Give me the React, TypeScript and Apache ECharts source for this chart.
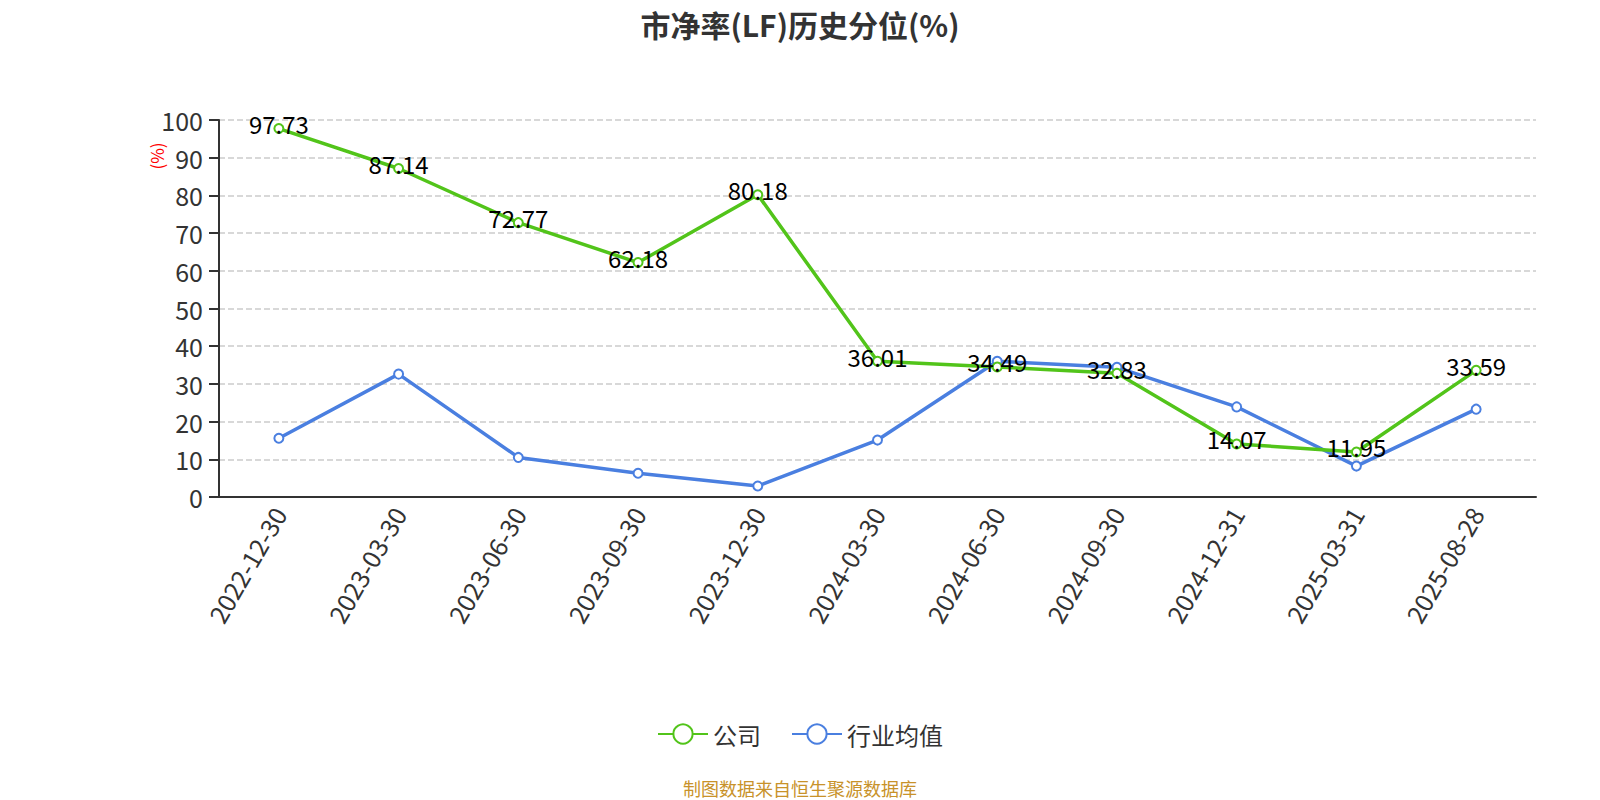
import React, { useEffect, useRef } from 'react';
import * as echarts from 'echarts';

const dates = [
  '2022-12-30', '2023-03-30', '2023-06-30', '2023-09-30', '2023-12-30', '2024-03-30',
  '2024-06-30', '2024-09-30', '2024-12-31', '2025-03-31', '2025-08-28',
];
const company = [97.73, 87.14, 72.77, 62.18, 80.18, 36.01, 34.49, 32.83, 14.07, 11.95, 33.59];
const industry = [15.6, 32.6, 10.5, 6.3, 2.9, 15.1, 36.0, 34.4, 23.9, 8.2, 23.3];

const FONT = '"Noto Sans CJK SC", "Noto Sans", sans-serif';

const App = () => {
  const chartRef = useRef<HTMLDivElement>(null);

  useEffect(() => {
    const chart = echarts.init(chartRef.current, null, { renderer: 'svg' });

    const option = {
      animation: false,
      textStyle: { fontFamily: FONT },
      title: {
        text: '市净率(LF)历史分位(%)',
        left: 'center',
        top: 4,
        textStyle: { fontSize: 30, fontWeight: 'bold', color: '#333', fontFamily: FONT },
      },
      legend: {
        top: 717,
        left: 'center',
        itemWidth: 50,
        itemHeight: 24,
        itemGap: 30,
        textStyle: { fontSize: 24, color: '#333', fontFamily: FONT },
        data: ['公司', '行业均值'],
      },
      grid: { left: 219, right: 64, top: 120, bottom: 303 },
      xAxis: {
        type: 'category',
        data: dates,
        axisLine: { lineStyle: { color: '#333', width: 2 } },
        axisTick: { length: 8, lineStyle: { width: 2 } },
        axisLabel: { rotate: 60, fontSize: 25, color: '#333', interval: 0, margin: 12 },
      },
      yAxis: {
        type: 'value',
        min: 0,
        max: 100,
        interval: 10,
        axisLine: { show: true, lineStyle: { color: '#333', width: 2 } },
        axisTick: { show: true, length: 10, lineStyle: { width: 2 } },
        axisLabel: { fontSize: 25, color: '#333', margin: 16 },
        splitLine: { lineStyle: { color: '#ccc', type: 'dashed', width: 1.5 } },
      },
      graphic: [
        {
          type: 'text',
          x: 156,
          y: 156,
          rotation: Math.PI / 2,
          style: {
            text: '(%)',
            fill: '#ff0000',
            font: `17px ${FONT}`,
            textAlign: 'center',
            textVerticalAlign: 'middle',
          },
        },
        {
          type: 'text',
          left: 'center',
          top: 779,
          style: { text: '制图数据来自恒生聚源数据库', fill: '#c8922a', font: `18px ${FONT}` },
        },
      ],
      series: [
        {
          name: '公司',
          type: 'line',
          data: company,
          symbol: 'emptyCircle',
          symbolSize: 9,
          z: 3,
          lineStyle: { color: '#52c41a', width: 3.5 },
          itemStyle: { color: '#52c41a', borderWidth: 2 },
          label: {
            show: true,
            position: 'inside',
            offset: [0, -5],
            fontSize: 24,
            color: '#000',
            fontFamily: FONT,
            formatter: (p: any) => p.value.toFixed(2),
          },
        },
        {
          name: '行业均值',
          type: 'line',
          data: industry,
          symbol: 'emptyCircle',
          symbolSize: 9,
          z: 2,
          lineStyle: { color: '#4a7fe0', width: 3.5 },
          itemStyle: { color: '#4a7fe0', borderWidth: 2 },
        },
      ],
    };

    chart.setOption(option);
    return () => {
      chart.dispose();
    };
  }, []);

  return (
    <div
      ref={chartRef}
      style={{ position: 'absolute', left: 0, top: 0, width: '1600px', height: '800px' }}
    />
  );
};

export default App;
